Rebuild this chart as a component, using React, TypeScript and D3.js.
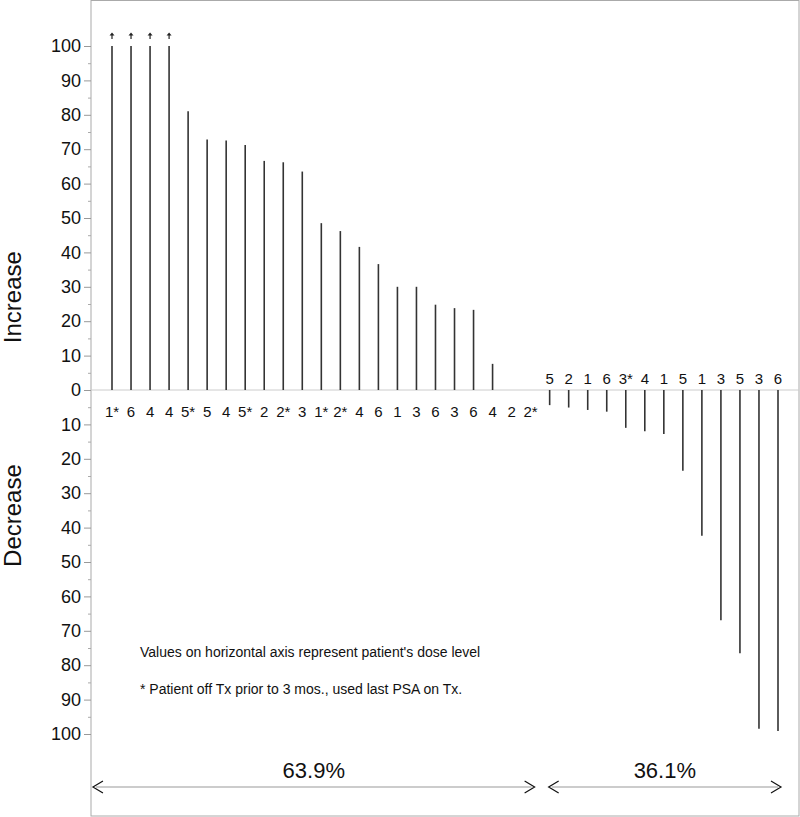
import React, { useEffect, useRef } from "react";
import * as d3 from "d3";

// Dose level labels per patient (waterfall order)
const doseLabels: string[] = [
  "1*", "6", "4", "4", "5*", "5", "4", "5*", "2", "2*", "3", "1*", "2*", "4", "6", "1", "3", "6", "3", "6", "4", "2", "2*",
  "5", "2", "1", "6", "3*", "4", "1", "5", "1", "3", "5", "3", "6",
];
// Percent PSA change (positive = increase, negative = decrease); capped at 100
const psaChange: number[] = [
  100, 100, 100, 100, 81, 72.8, 72.5, 71.2, 66.6, 66.2, 63.5, 48.5, 46.2, 41.6, 36.6, 30, 30, 24.8, 23.8, 23.3, 7.6, 0, 0,
  -4.4, -5.1, -5.8, -6.3, -11, -12, -12.8, -23.5, -42.4, -66.9, -76.5, -98.5, -99.1,
];
// Bars whose true value exceeds the axis maximum
const truncated: boolean[] = psaChange.map((_, i) => i < 4);
const yTicks: number[] = d3.range(-100, 101, 10);
const yMinorTicks: number[] = d3.range(-95, 100, 10);
const groupLabels: string[] = ["63.9%", "36.1%"];
const notes: string[] = [
  "Values on horizontal axis represent patient's dose level",
  "* Patient off Tx prior to 3 mos., used last PSA on Tx.",
];

const W = 800;
const H = 817;
const FONT = "'Liberation Sans', Arial, Helvetica, sans-serif";

export default function App() {
  const axisRef = useRef<SVGGElement>(null);
  const minorRef = useRef<SVGGElement>(null);

  const left = 91;
  const right = 799;
  const y = d3.scaleLinear().domain([-100, 100]).range([734, 46]);
  const x = d3
    .scalePoint<number>()
    .domain(d3.range(psaChange.length))
    .range([112, 778]);
  const step = x.step();
  const y0 = y(0);

  const nInc = psaChange.filter((v) => v >= 0).length;

  useEffect(() => {
    if (axisRef.current) {
      const g = d3.select(axisRef.current);
      g.call(
        d3
          .axisLeft(y)
          .tickValues(yTicks)
          .tickSize(7)
          .tickPadding(3)
          .tickFormat((d) => String(Math.abs(d as number)))
      );
      g.select(".domain").remove();
      g.selectAll(".tick line").attr("stroke", "#999");
      g.selectAll(".tick text")
        .attr("fill", "#111")
        .style("font-family", FONT)
        .style("font-size", "18px");
    }
    if (minorRef.current) {
      const g = d3.select(minorRef.current);
      g.call(d3.axisLeft(y).tickValues(yMinorTicks).tickSize(3).tickFormat(() => ""));
      g.select(".domain").remove();
      g.selectAll(".tick line").attr("stroke", "#aaa");
    }
  }, []);

  const arrows = [
    { x1: x(0)! - step, x2: x(nInc - 1)! + 4, label: groupLabels[0] },
    { x1: x(nInc)! - 1, x2: x(psaChange.length - 1)! + 3, label: groupLabels[1] },
  ];

  return (
    <svg
      width={W}
      height={H}
      style={{ position: "absolute", left: 0, top: 0, background: "#fff" }}
      fontFamily={FONT}
    >
      <rect x={left} y={0.5} width={right - left} height={815.5} fill="#fff" stroke="#aaa" strokeWidth={1} />
      <line x1={left} x2={right} y1={y0} y2={y0} stroke="#ccc" strokeWidth={1} />

      <g ref={axisRef} transform={`translate(${left},0)`} />
      <g ref={minorRef} transform={`translate(${left},0)`} />

      <text
        transform={`translate(21,${y(27)}) rotate(-90)`}
        textAnchor="middle"
        fontSize={24}
        fill="#111"
      >
        Increase
      </text>
      <text
        transform={`translate(21,${y(-36.5)}) rotate(-90)`}
        textAnchor="middle"
        fontSize={24}
        fill="#111"
      >
        Decrease
      </text>

      {psaChange.map((v, i) => (
        <line
          key={"b" + i}
          x1={x(i)}
          x2={x(i)}
          y1={y0}
          y2={y(v)}
          stroke="#333"
          strokeWidth={1.6}
        />
      ))}

      {psaChange.map((v, i) =>
        truncated[i] ? (
          <g key={"a" + i} transform={`translate(${x(i)},${y(100) - 12})`}>
            <line x1={0} x2={0} y1={0} y2={5} stroke="#222" strokeWidth={1.2} />
            <path d="M-2.5,1.5 L0,-1.5 L2.5,1.5 Z" fill="#222" />
          </g>
        ) : null
      )}

      {psaChange.map((v, i) => (
        <text
          key={"l" + i}
          x={x(i)}
          y={v >= 0 ? y0 + 27 : y0 - 6}
          textAnchor="middle"
          fontSize={15}
          fill="#111"
        >
          {doseLabels[i]}
        </text>
      ))}

      <text x={140} y={657} fontSize={14} fill="#111">
        {notes[0]}
      </text>
      <text x={140} y={694} fontSize={14} fill="#111">
        {notes[1]}
      </text>

      {arrows.map((a, i) => (
        <g key={"g" + i}>
          <line x1={a.x1 + 3} x2={a.x2 - 3} y1={787} y2={787} stroke="#999" strokeWidth={1} />
          <path
            d={`M${a.x1 + 10},${781} L${a.x1},${787} L${a.x1 + 10},${793}`}
            fill="none"
            stroke="#111"
            strokeWidth={1.2}
          />
          <path
            d={`M${a.x2 - 10},${781} L${a.x2},${787} L${a.x2 - 10},${793}`}
            fill="none"
            stroke="#111"
            strokeWidth={1.2}
          />
          <text x={(a.x1 + a.x2) / 2} y={778} textAnchor="middle" fontSize={22} fill="#111">
            {a.label}
          </text>
        </g>
      ))}
    </svg>
  );
}
